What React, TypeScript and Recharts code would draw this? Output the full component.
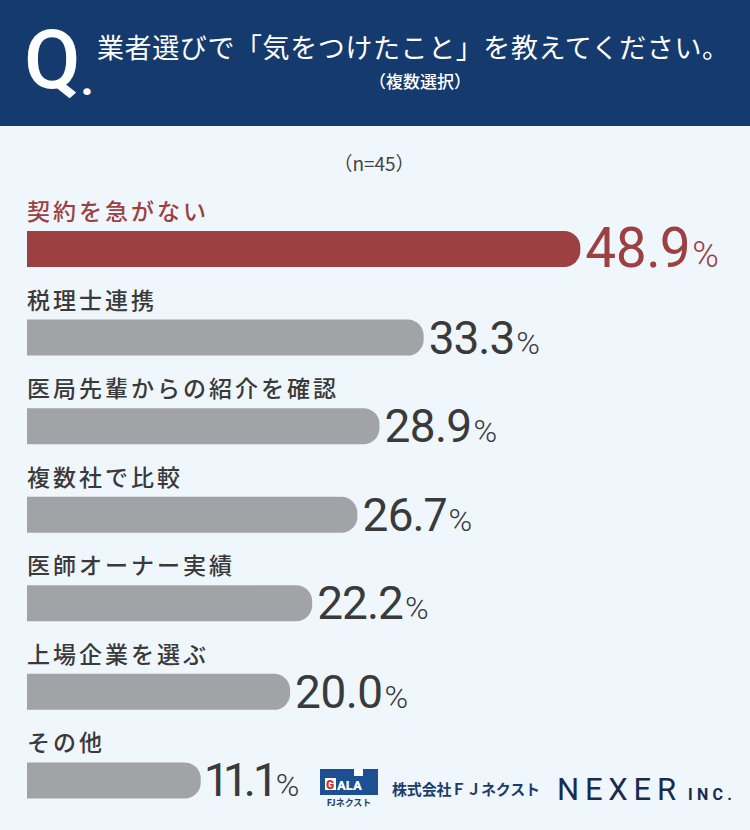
import React from 'react';
import { BarChart, Bar, XAxis, YAxis } from 'recharts';

// answers, top to bottom
const categories = [
  '契約を急がない',
  '税理士連携',
  '医局先輩からの紹介を確認',
  '複数社で比較',
  '医師オーナー実績',
  '上場企業を選ぶ',
  'その他',
];
const percents = [48.9, 33.3, 28.9, 26.7, 22.2, 20.0, 11.1];

// the original bars don't start at zero, they start a bit left of it
const AXIS_MIN = -6.2;
const AXIS_MAX = 65.5;

const rows = categories.map((name, i) => ({ name, value: percents[i], top: i === 0 }));

const RED = '#9d4042';
const GREY = '#a2a3a7';
const TEXT = '#3a3a3a';
const NAVY = '#143a6e';
const BG = '#eff6fc';
const JP = "'Noto Sans CJK JP', sans-serif";

const BarWithLabels = (props: any) => {
  const { x, y, width, height, payload } = props;
  if (!payload) return null;
  const hi = payload.top;
  const r = 16;
  const right = x + width;
  const d = `M${x},${y} H${right - r} A${r},${r} 0 0 1 ${right},${y + r} V${y + height - r} A${r},${r} 0 0 1 ${right - r},${y + height} H${x} Z`;
  return (
    <g>
      <text
        x={x}
        y={y - 11}
        fill={hi ? RED : TEXT}
        fontSize={23}
        letterSpacing={3}
        fontFamily={JP}
        fontWeight={500}
      >
        {payload.name}
      </text>
      <path d={d} fill={hi ? RED : GREY} />
      <text
        x={right + 5}
        y={hi ? y + height : y + height - 2}
        fill={hi ? RED : TEXT}
        fontFamily="Roboto"
        fontSize={hi ? 55 : 46}
        letterSpacing={-1}
        style={{ fontVariantNumeric: 'proportional-nums' }}
      >
        {payload.value.toFixed(1)}
        <tspan fontSize={hi ? 36 : 32} fontWeight={300} dx={2} letterSpacing={0}>
          %
        </tspan>
      </text>
    </g>
  );
};

const Header = () => (
  <svg width={750} height={830} style={{ position: 'absolute', left: 0, top: 0 }}>
    <rect x={0} y={0} width={750} height={126} fill={NAVY} />
    <text x={24} y={88} fontFamily="Roboto" fontWeight={500} fontSize={82} fill="#fff">
      Q
    </text>
    <text x={81} y={95} fontFamily="Roboto" fontWeight={900} fontSize={40} fill="#fff">
      .
    </text>
    <text x={97} y={58} fontFamily={JP} fontSize={27} fill="#fff" textLength={632}>
      業者選びで「気をつけたこと」を教えてください。
    </text>
    <text x={420} y={88} textAnchor="middle" fontFamily={JP} fontSize={17} fontWeight={500} fill="#fff">
      （複数選択）
    </text>
    <text x={374} y={171} textAnchor="middle" fontFamily={JP} fontSize={19} fill="#444">
      （n=45）
    </text>

    {/* logos */}
    <rect x={320} y={769} width={58} height={26} fill="#1d4f93" />
    <rect x={354} y={769} width={9} height={7} fill="#fff" />
    <rect x={325} y={778} width={11} height={12} fill="#fff" />
    <text x={326} y={789} fontFamily="Roboto" fontWeight={900} fontSize={12} fill="#d22b2b">
      G
    </text>
    <text x={337} y={790} fontFamily="Roboto" fontWeight={900} fontSize={13} fill="#fff">
      ALA
    </text>
    <text x={349} y={806} textAnchor="middle" fontFamily={JP} fontWeight={700} fontSize={9} fill="#1d3c6b">
      FJネクスト
    </text>
    <text x={392} y={795} fontFamily={JP} fontWeight={700} fontSize={15} fill="#1d3c6b" textLength={148}>
      株式会社ＦＪネクスト
    </text>
    <text x={557} y={800} fontFamily="Roboto" fontSize={31} fill="#1a2b4c" textLength={119}>
      NEXER
    </text>
    <text x={688} y={800} fontFamily="Roboto" fontWeight={700} fontSize={16} fill="#1a2b4c" textLength={44}>
      INC.
    </text>
  </svg>
);

export default function App() {
  return (
    <div
      style={{
        position: 'absolute',
        left: 0,
        top: 0,
        width: 750,
        height: 830,
        background: BG,
        overflow: 'hidden',
        fontFamily: JP,
      }}
    >
      <Header />
      <div style={{ position: 'absolute', left: 0, top: 0 }}>
        <BarChart
          width={750}
          height={830}
          data={rows}
          layout="vertical"
          margin={{ top: 205, right: 3, bottom: 5, left: 27 }}
        >
          <XAxis type="number" domain={[AXIS_MIN, AXIS_MAX]} hide allowDataOverflow />
          <YAxis type="category" dataKey="name" hide />
          <Bar
            dataKey={(d: any) => [AXIS_MIN, d.value]}
            barSize={36}
            shape={BarWithLabels}
            isAnimationActive={false}
          />
        </BarChart>
      </div>
    </div>
  );
}
